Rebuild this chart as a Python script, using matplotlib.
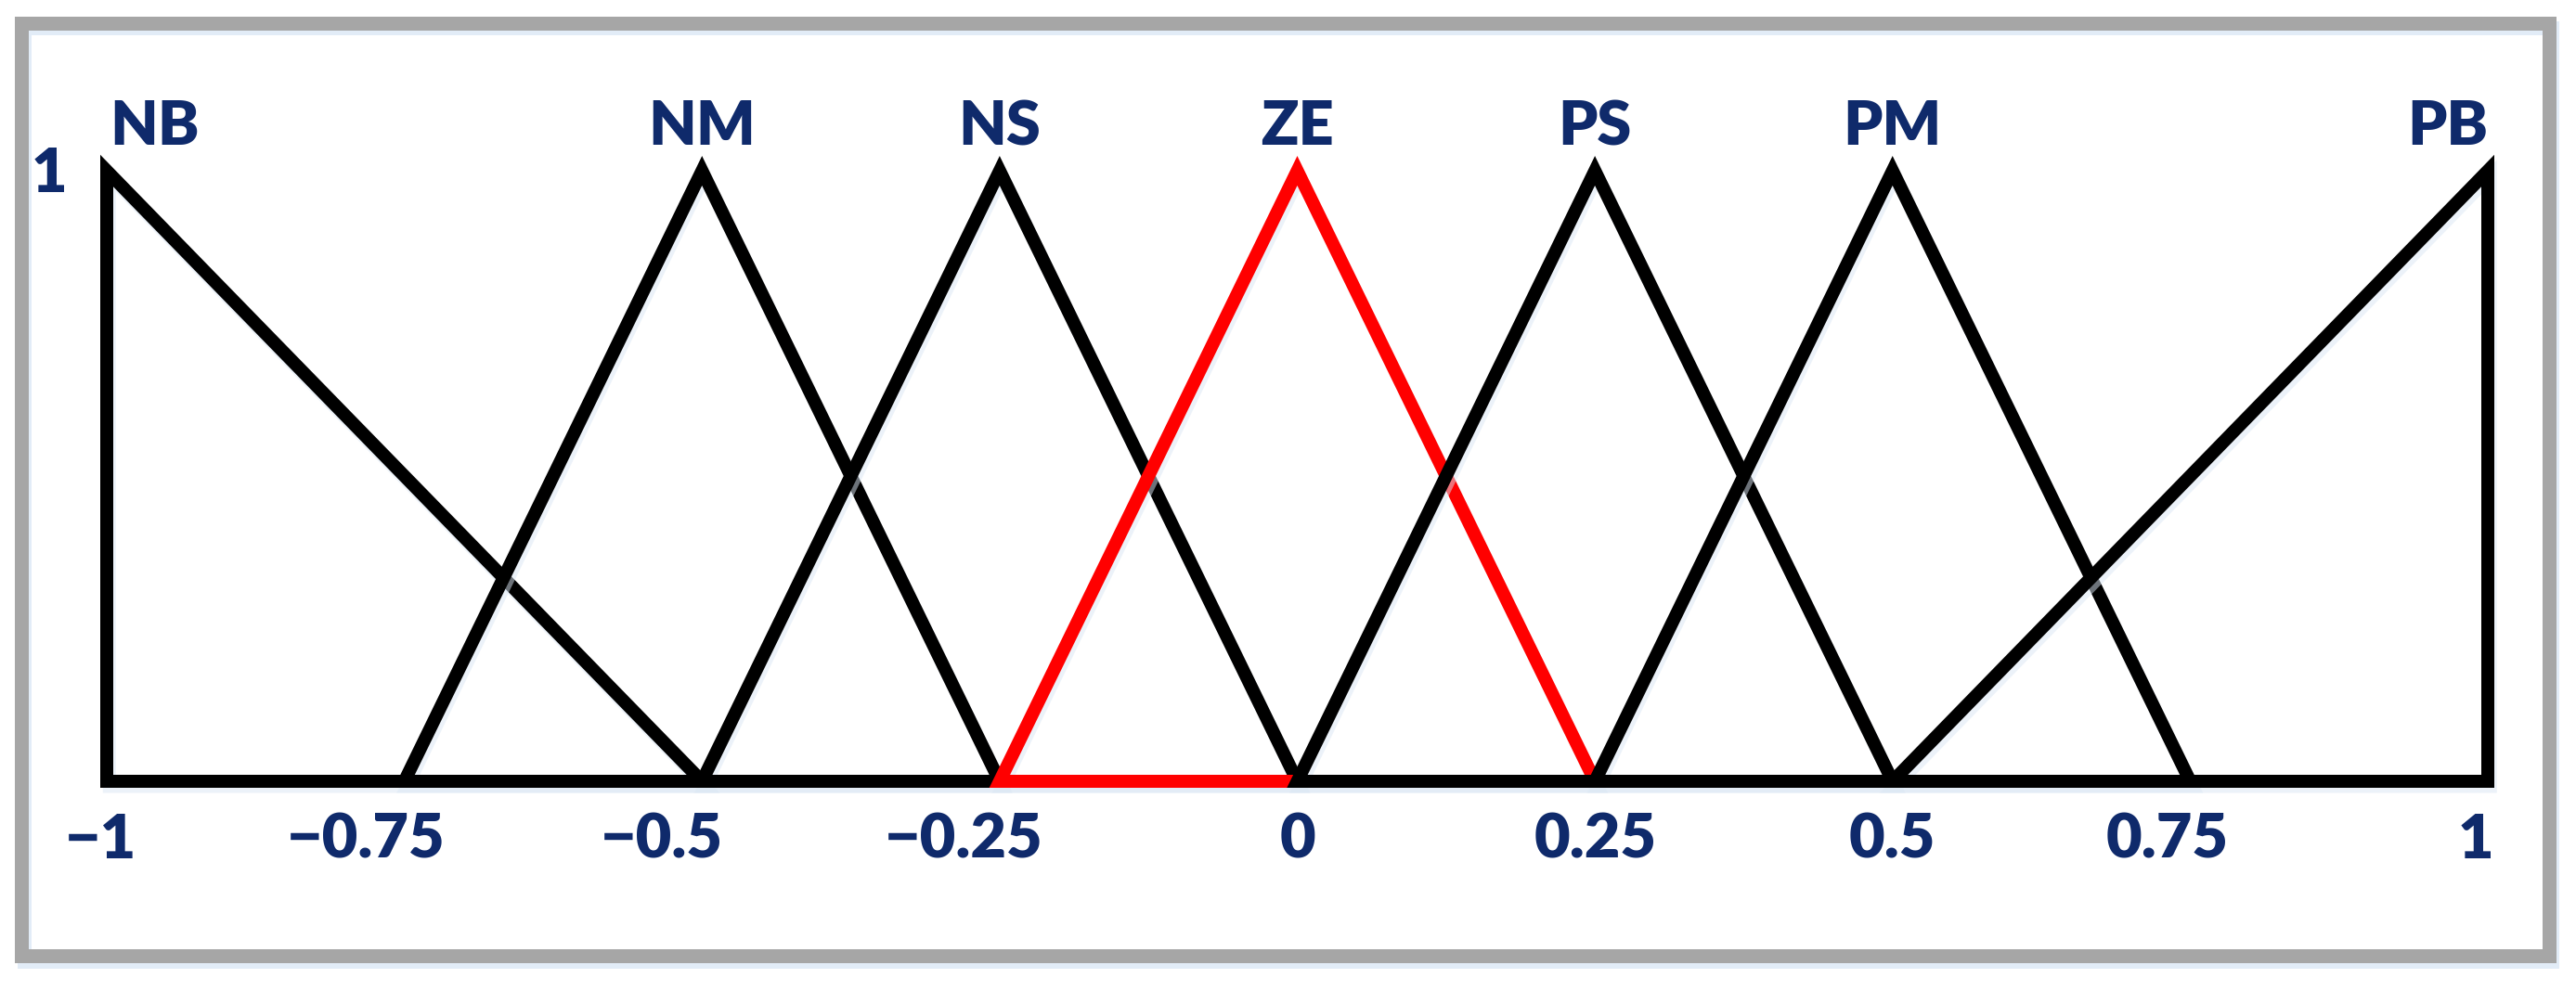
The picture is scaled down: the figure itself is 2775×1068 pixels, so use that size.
import matplotlib.pyplot as plt
from matplotlib.patches import Polygon, Rectangle
import matplotlib.patheffects as pe

# fuzzy sets: name, left foot, peak, right foot
set_names = ['NB', 'NM', 'NS', 'ZE', 'PS', 'PM', 'PB']
left_feet = [-1.0, -0.75, -0.5, -0.25, 0.0, 0.25, 0.5]
peaks = [-1.0, -0.5, -0.25, 0.0, 0.25, 0.5, 1.0]
right_feet = [-0.5, -0.25, 0.0, 0.25, 0.5, 0.75, 1.0]
set_colors = ['black', 'black', 'black', 'red', 'black', 'black', 'black']

tick_values = [-1, -0.75, -0.5, -0.25, 0, 0.25, 0.5, 0.75, 1]
tick_labels = ['\u22121', '\u22120.75', '\u22120.5', '\u22120.25', '0', '0.25', '0.5', '0.75', '1']

# label nudges (in data units) to mimic the hand placed text
name_nudge = [0.04, 0.0, 0.0, 0.0, 0.0, 0.0, -0.0]
name_ha = ['center', 'center', 'center', 'center', 'center', 'center', 'right']
tick_nudge = [-0.005, -0.032, -0.034, -0.03, 0.0, 0.0, 0.0, -0.019, 0.005]
tick_ha = ['center'] * 8 + ['right']

NAVY = '#0f2a6b'
W, H = 2775, 1068
DPI = 100

fig = plt.figure(figsize=(W / DPI, H / DPI), dpi=DPI, facecolor='white')
ax = fig.add_axes([0, 0, 1, 1])
ax.axis('off')

# map data to pixels: x=-1 -> 115px, x=1 -> 2680px ; y=0 -> 842px, y=1 -> 184px (from top)
px_per_x = (2680 - 115) / 2.0
px_per_y = 842 - 184
ax.set_xlim(-1 - 115 / px_per_x, -1 + (W - 115) / px_per_x)
ax.set_ylim((842 - H) / px_per_y, 842 / px_per_y)

# outer frame with a soft shadow
frame_lw = 15 * 72 / DPI
shadow = [pe.SimpleLineShadow(offset=(2, -4), shadow_color='#cfe0f2', alpha=0.6), pe.Normal()]
fig.patches.append(Rectangle((23 / W, 1 - 1030 / H), (2746 - 23) / W, (1030 - 24.5) / H,
                             transform=fig.transFigure, fill=False, edgecolor='#a6a6a6',
                             linewidth=frame_lw, joinstyle='miter', path_effects=shadow))

lw = 14 * 72 / DPI
line_shadow = [pe.SimpleLineShadow(offset=(2, -4), shadow_color='#dbe7f4', alpha=0.5), pe.Normal()]
for name, a, b, c, col in zip(set_names, left_feet, peaks, right_feet, set_colors):
    tri = Polygon([(a, 0), (b, 1), (c, 0)], closed=True, fill=False, edgecolor=col,
                  linewidth=lw, joinstyle='miter', path_effects=line_shadow)
    ax.add_patch(tri)

font = dict(family=['Lato', 'DejaVu Sans'], fontweight='heavy', color=NAVY, fontsize=48)

for name, b, dx, ha in zip(set_names, peaks, name_nudge, name_ha):
    ax.text(b + dx, 1.042, name, ha=ha, va='baseline', **font)

for v, lab, dx, ha in zip(tick_values, tick_labels, tick_nudge, tick_ha):
    ax.text(v + dx, -0.126, lab, ha=ha, va='baseline', **font)

ax.text(-1.033, 0.995, '1', ha='right', va='center', **font)

fig.savefig('out.png', dpi=DPI, facecolor='white')
